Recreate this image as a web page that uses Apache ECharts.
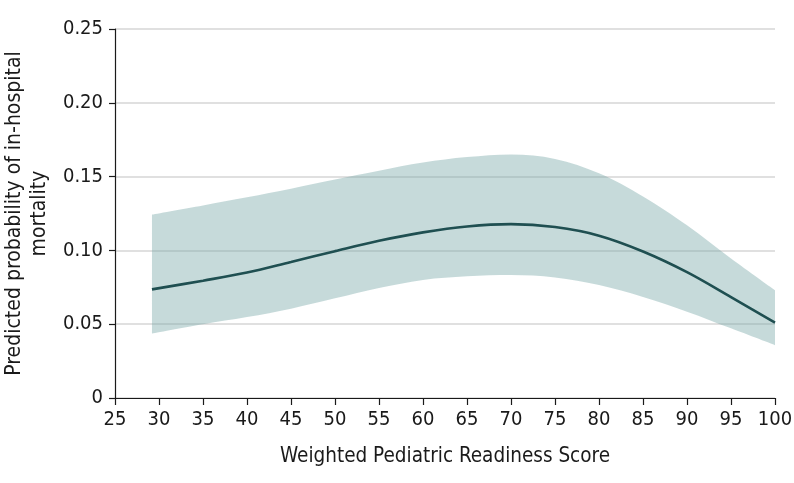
<!DOCTYPE html>
<html>
<head>
<meta charset="utf-8">
<script src="https://cdn.jsdelivr.net/npm/echarts@6/dist/echarts.min.js"></script>
<style>
html,body{margin:0;padding:0;background:#fff;}
#chart{width:794px;height:483px;}
</style>
</head>
<body>
<div id="chart"></div>
<script>
const scores = [29.2, 35, 40, 45, 50, 55, 60, 65, 70, 75, 80, 85, 90, 95, 100];
const predicted = [0.0736, 0.0795, 0.0850, 0.0922, 0.0995, 0.1065, 0.1122, 0.1162, 0.1178, 0.1158, 0.1100, 0.0993, 0.0853, 0.0684, 0.0511];
const upperCI = [0.1243, 0.1305, 0.1360, 0.1418, 0.1480, 0.1540, 0.1595, 0.1632, 0.1650, 0.1620, 0.1522, 0.1365, 0.1170, 0.0945, 0.0730];
const lowerCI = [0.0437, 0.0500, 0.0548, 0.0605, 0.0675, 0.0745, 0.0800, 0.0825, 0.0833, 0.0817, 0.0766, 0.0685, 0.0585, 0.0472, 0.0358];
const xTicks = {min: 25, max: 100, interval: 5};
const yTicks = {min: 0, max: 0.25, interval: 0.05};

const FONT = '"DejaVu Sans Condensed", "Liberation Sans Narrow", "Liberation Sans", sans-serif';

const chart = echarts.init(document.getElementById('chart'), null, {renderer: 'canvas'});
chart.setOption({
  animation: false,
  grid: {left: 115, right: 19, top: 29, bottom: 85, containLabel: false, outerBoundsMode: 'none'},
  xAxis: {
    type: 'value', min: xTicks.min, max: xTicks.max, interval: xTicks.interval,
    name: 'Weighted Pediatric Readiness Score', nameLocation: 'middle', nameGap: 48,
    nameTextStyle: {fontFamily: FONT, fontSize: 20.5, color: '#1a1a1a'},
    axisLine: {show: true, onZero: false, lineStyle: {color: '#1a1a1a', width: 1.2}},
    axisTick: {show: true, inside: false, length: 7, lineStyle: {color: '#1a1a1a', width: 1.2}},
    axisLabel: {fontFamily: FONT, fontSize: 20, color: '#1a1a1a', margin: 12},
    splitLine: {show: false}
  },
  yAxis: {
    type: 'value', min: yTicks.min, max: yTicks.max, interval: yTicks.interval,
    name: 'Predicted probability of in-hospital\nmortality', nameLocation: 'middle', nameGap: 62,
    nameRotate: 90,
    nameTextStyle: {fontFamily: FONT, fontSize: 21, color: '#1a1a1a', lineHeight: 25, align: 'center'},
    axisLine: {show: true, lineStyle: {color: '#1a1a1a', width: 1.2}},
    axisTick: {show: true, inside: false, length: 6, lineStyle: {color: '#1a1a1a', width: 1.2}},
    axisLabel: {fontFamily: FONT, fontSize: 20, color: '#1a1a1a', margin: 12,
      formatter: v => v === 0 ? '0' : v.toFixed(2)},
    splitLine: {show: true, lineStyle: {color: '#d6d6d6', width: 1.5}}
  },
  series: [
    {
      type: 'line', stack: 'ci', smooth: 0.35, symbol: 'none',
      dimensions: ['prob', 'score'], encode: {x: 'score', y: 'prob'},
      data: scores.map((s, i) => [lowerCI[i], s]),
      lineStyle: {width: 0, opacity: 0}, areaStyle: {opacity: 0}, silent: true
    },
    {
      type: 'line', stack: 'ci', smooth: 0.35, symbol: 'none',
      dimensions: ['prob', 'score'], encode: {x: 'score', y: 'prob'},
      data: scores.map((s, i) => [+(upperCI[i] - lowerCI[i]).toFixed(4), s]),
      lineStyle: {width: 0, opacity: 0},
      areaStyle: {color: 'rgba(112,162,162,0.4)', opacity: 1}, silent: true
    },
    {
      type: 'line', smooth: 0.35, symbol: 'none',
      data: scores.map((s, i) => [s, predicted[i]]),
      lineStyle: {color: '#1f4f51', width: 2.6}
    }
  ]
});
</script>
</body>
</html>
